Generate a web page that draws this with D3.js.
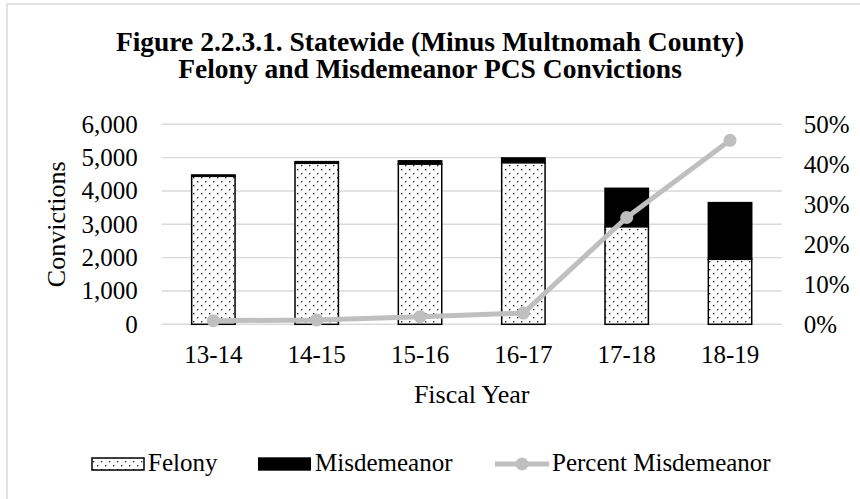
<!DOCTYPE html>
<html>
<head>
<meta charset="utf-8">
<script src="https://cdn.jsdelivr.net/npm/d3@7"></script>
<style>
  body { margin: 0; background: #fff; }
  text { font-family: "Liberation Serif", "Times New Roman", serif; fill: #000; }
</style>
</head>
<body>
<div id="chart"></div>
<script>
// data
const years = ["13-14", "14-15", "15-16", "16-17", "17-18", "18-19"]
const felony = [4440, 4830, 4810, 4850, 2930, 1950]
const misdemeanor = [40, 50, 95, 140, 1150, 1700]
const pctMisd = [0.009, 0.011, 0.019, 0.028, 0.267, 0.460]
const yTicks = [0, 1000, 2000, 3000, 4000, 5000, 6000]
const pctTicks = [0, 0.1, 0.2, 0.3, 0.4, 0.5]

const W = 860, H = 499
const plotL = 161.7, plotR = 781.7, plotT = 124.3, plotB = 324.3

const svg = d3.select("#chart").append("svg")
    .attr("width", W)
    .attr("height", H)

// dotted fill for felony bars
const defs = svg.append("defs")
const pat = defs.append("pattern")
    .attr("id", "dots")
    .attr("patternUnits", "userSpaceOnUse")
    .attr("width", 8)
    .attr("height", 8)
pat.append("rect").attr("width", 8).attr("height", 8).attr("fill", "#fff")
pat.append("rect").attr("x", 1).attr("y", 1).attr("width", 1.4).attr("height", 1.4).attr("fill", "#333")
pat.append("rect").attr("x", 5).attr("y", 5).attr("width", 1.4).attr("height", 1.4).attr("fill", "#333")

// chart border
svg.append("rect")
    .attr("x", 7).attr("y", 4)
    .attr("width", 880).attr("height", 520)
    .attr("fill", "none")
    .attr("stroke", "#d9d9d9")
    .attr("stroke-width", 1.5)

// title
svg.append("text")
    .attr("x", 430).attr("y", 51)
    .attr("text-anchor", "middle")
    .style("font-size", "27.5px").style("font-weight", "bold")
    .text("Figure 2.2.3.1. Statewide (Minus Multnomah County)")
svg.append("text")
    .attr("x", 430).attr("y", 78)
    .attr("text-anchor", "middle")
    .style("font-size", "27.5px").style("font-weight", "bold")
    .text("Felony and Misdemeanor PCS Convictions")

// scales
const x = d3.scaleBand()
    .domain(years)
    .range([plotL, plotR])
    .paddingInner(0.58)
    .paddingOuter(0.29)
const y = d3.scaleLinear().domain([0, 6000]).range([plotB, plotT])
const y2 = d3.scaleLinear().domain([0, 0.5]).range([plotB, plotT])

// gridlines
svg.append("g")
    .selectAll("line")
    .data(yTicks)
    .join("line")
    .attr("x1", plotL).attr("x2", plotR)
    .attr("y1", d => y(d)).attr("y2", d => y(d))
    .attr("stroke", "#d9d9d9")
    .attr("stroke-width", 1.4)

// axes
svg.append("g")
    .attr("transform", `translate(${plotL},0)`)
    .call(d3.axisLeft(y).tickValues(yTicks).tickFormat(d3.format(",")).tickSize(0).tickPadding(24))
    .call(g => g.select(".domain").remove())
    .call(g => g.selectAll("text").style("font-size", "25px").style("font-family", "Liberation Serif").attr("fill", "#000"))

svg.append("g")
    .attr("transform", `translate(${plotR},0)`)
    .call(d3.axisRight(y2).tickValues(pctTicks).tickFormat(d3.format(".0%")).tickSize(0).tickPadding(22))
    .call(g => g.select(".domain").remove())
    .call(g => g.selectAll("text").style("font-size", "25px").style("font-family", "Liberation Serif").attr("fill", "#000"))

svg.append("g")
    .attr("transform", `translate(0,${plotB})`)
    .call(d3.axisBottom(x).tickSize(0).tickPadding(21))
    .call(g => g.select(".domain").remove())
    .call(g => g.selectAll("text").style("font-size", "25px").style("font-family", "Liberation Serif").attr("fill", "#000"))

// axis titles
svg.append("text")
    .attr("x", (plotL + plotR) / 2).attr("y", 403)
    .attr("text-anchor", "middle")
    .style("font-size", "26px")
    .text("Fiscal Year")
svg.append("text")
    .attr("transform", `translate(65,${(plotT + plotB) / 2}) rotate(-90)`)
    .attr("text-anchor", "middle")
    .style("font-size", "26px")
    .text("Convictions")

// bars
const bars = svg.append("g")
bars.selectAll(".fel")
    .data(years)
    .join("rect")
    .attr("class", "fel")
    .attr("x", d => x(d))
    .attr("width", x.bandwidth())
    .attr("y", (d, i) => y(felony[i]))
    .attr("height", (d, i) => y(0) - y(felony[i]))
    .attr("fill", "url(#dots)")
    .attr("stroke", "#000")
    .attr("stroke-width", 1.5)
bars.selectAll(".mis")
    .data(years)
    .join("rect")
    .attr("class", "mis")
    .attr("x", d => x(d))
    .attr("width", x.bandwidth())
    .attr("y", (d, i) => y(felony[i] + misdemeanor[i]))
    .attr("height", (d, i) => y(felony[i]) - y(felony[i] + misdemeanor[i]))
    .attr("fill", "#000")
    .attr("stroke", "#000")
    .attr("stroke-width", 1.5)

// percent line
const cx = d => x(d) + x.bandwidth() / 2
svg.append("path")
    .datum(years)
    .attr("fill", "none")
    .attr("stroke", "#bfbfbf")
    .attr("stroke-width", 5)
    .attr("stroke-linejoin", "round")
    .attr("d", d3.line()
        .x(d => cx(d))
        .y((d, i) => y2(pctMisd[i])))
svg.append("g")
    .selectAll("circle")
    .data(years)
    .join("circle")
    .attr("cx", d => cx(d))
    .attr("cy", (d, i) => y2(pctMisd[i]))
    .attr("r", 6.5)
    .attr("fill", "#bfbfbf")

// legend
const leg = svg.append("g").style("font-size", "25px")
leg.append("rect")
    .attr("x", 92).attr("y", 458).attr("width", 52).attr("height", 12)
    .attr("fill", "url(#dots)").attr("stroke", "#000").attr("stroke-width", 1.5)
leg.append("text").attr("x", 148).attr("y", 471).text("Felony")
leg.append("rect")
    .attr("x", 258).attr("y", 457.3).attr("width", 53).attr("height", 13.4)
    .attr("fill", "#000")
leg.append("text").attr("x", 315).attr("y", 471).text("Misdemeanor")
leg.append("line")
    .attr("x1", 495).attr("x2", 549).attr("y1", 464).attr("y2", 464)
    .attr("stroke", "#bfbfbf").attr("stroke-width", 5)
leg.append("circle").attr("cx", 522).attr("cy", 464).attr("r", 6.5).attr("fill", "#bfbfbf")
leg.append("text").attr("x", 552).attr("y", 471).text("Percent Misdemeanor")
</script>
</body>
</html>
